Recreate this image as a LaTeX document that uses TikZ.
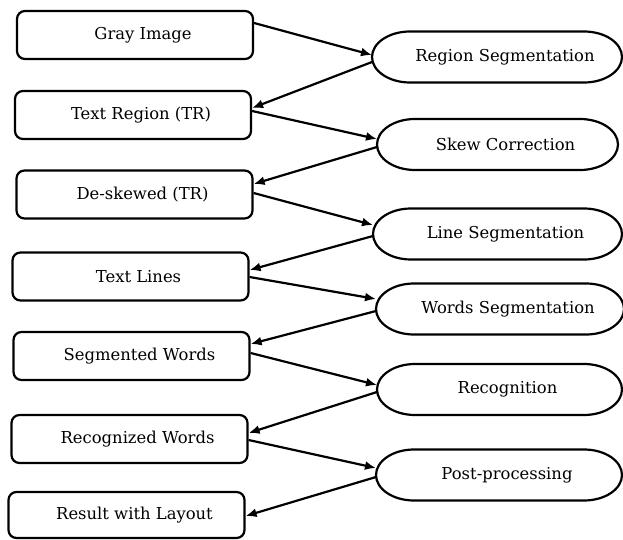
\documentclass[tikz,border=0pt]{standalone}
\usepackage{fontspec}
\setmainfont{DejaVu Serif}
\usetikzlibrary{arrows.meta}
\tikzset{
  x=1pt, y=1pt,
  stroke/.style={line width=2.2pt, black},
  stepbox/.style={stroke, draw, rectangle, rounded corners=8pt,
    minimum width=236pt, minimum height=48pt, inner sep=0pt,
    font=\fontsize{16.4}{19}\selectfont},
  pill/.style={rectangle, minimum width=246pt, minimum height=51pt,
    inner sep=0pt, outer sep=0pt, font=\fontsize{16.4}{19}\selectfont},
  flow/.style={stroke, -{Latex[length=11pt,width=9pt]}},
}
\newcommand{\padtext}[1]{\hspace*{16pt}#1}
\begin{document}
\begin{tikzpicture}
\useasboundingbox (0,0) rectangle (623,539);

% processing stages (left column)
\node[stepbox] (b1) at (135,504)   {\padtext{Gray Image}};
\node[stepbox] (b2) at (133,424)   {\padtext{Text Region (TR)}};
\node[stepbox] (b3) at (134.5,344.5) {\padtext{De-skewed (TR)}};
\node[stepbox] (b4) at (130.5,262.5) {\padtext{Text Lines}};
\node[stepbox] (b5) at (131.5,183) {\padtext{Segmented Words}};
\node[stepbox] (b6) at (129.5,100) {\padtext{Recognized Words}};
\node[stepbox, minimum height=46pt] (b7) at (126.5,24) {\padtext{Result with Layout}};

% operations (right column)
\node[pill, minimum width=250pt] (e1) at (497,482)   {\padtext{Region Segmentation}};
\node[pill, minimum width=241pt] (e2) at (497.5,394.5) {\padtext{Skew Correction}};
\node[pill, minimum width=249pt] (e3) at (497.5,305) {\padtext{Line Segmentation}};
\node[pill, minimum width=248pt] (e4) at (500,230)   {\padtext{Words Segmentation}};
\node[pill, minimum width=245pt] (e5) at (499.5,149.5) {\padtext{Recognition}};
\node[pill, minimum width=246pt] (e6) at (499,64)    {\padtext{Post-processing}};

% stadium outlines with elliptical ends
\foreach \n in {e1,e2,e3,e4,e5,e6}{
  \draw[stroke] ([xshift=38pt]\n.north west) -- ([xshift=-38pt]\n.north east)
    arc[start angle=90, end angle=-90, x radius=38pt, y radius=25.5pt]
    -- ([xshift=38pt]\n.south west)
    arc[start angle=270, end angle=90, x radius=38pt, y radius=25.5pt] -- cycle;
}

% zig-zag flow
\draw[flow] ([yshift=12pt]b1.east)  -- ([yshift=2pt]e1.west);
\draw[flow] ([yshift=-5pt]e1.west)  -- ([yshift=7pt]b2.east);
\draw[flow] ([yshift=4pt]b2.east)   -- ([yshift=5.5pt]e2.west);
\draw[flow] ([yshift=-2.5pt]e2.west) -- ([yshift=10.5pt]b3.east);
\draw[flow] ([yshift=1.5pt]b3.east) -- ([yshift=9pt]e3.west);
\draw[flow] ([yshift=-2pt]e3.west)  -- ([yshift=6.5pt]b4.east);
\draw[flow] ([yshift=-0.5pt]b4.east) -- ([yshift=10pt]e4.west);
\draw[flow] ([yshift=-2pt]e4.west)  -- ([yshift=12pt]b5.east);
\draw[flow] ([yshift=3pt]b5.east)   -- ([yshift=4.5pt]e5.west);
\draw[flow] ([yshift=-2.5pt]e5.west) -- ([yshift=6pt]b6.east);
\draw[flow] ([yshift=-1pt]b6.east)  -- ([yshift=7pt]e6.west);
\draw[flow] ([yshift=-2pt]e6.west)  -- ([yshift=-1pt]b7.east);
\end{tikzpicture}
\end{document}
